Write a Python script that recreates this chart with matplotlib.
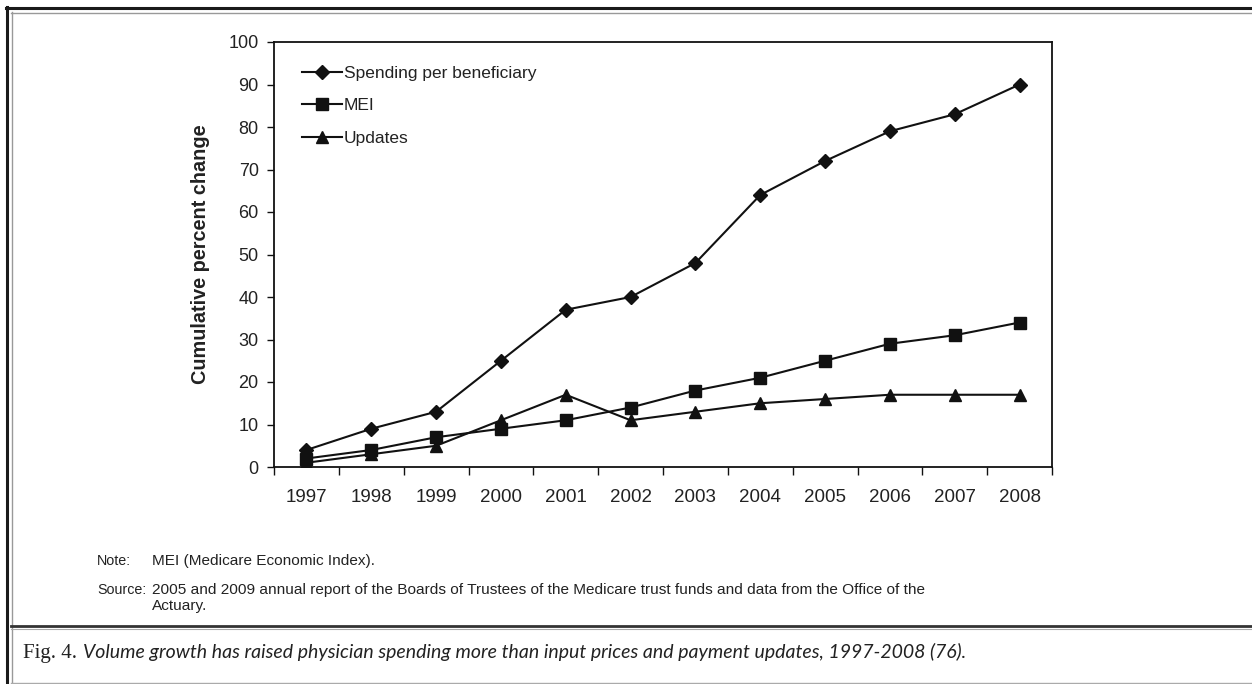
import matplotlib
matplotlib.use("Agg")
import matplotlib.pyplot as plt
from matplotlib.lines import Line2D
from matplotlib.ticker import FixedLocator

plt.rcParams['font.family'] = ['Liberation Sans', 'DejaVu Sans']

years = ['1997', '1998', '1999', '2000', '2001', '2002',
         '2003', '2004', '2005', '2006', '2007', '2008']
spending = [4, 9, 13, 25, 37, 40, 48, 64, 72, 79, 83, 90]
mei = [2, 4, 7, 9, 11, 14, 18, 21, 25, 29, 31, 34]
updates = [1, 3, 5, 11, 17, 11, 13, 15, 16, 17, 17, 17]
y_ticks = [0, 10, 20, 30, 40, 50, 60, 70, 80, 90, 100]

W, H = 1252, 684
fig = plt.figure(figsize=(W / 100, H / 100), dpi=100)
ax = fig.add_axes([274 / W, 1 - 467 / H, (1052 - 274) / W, (467 - 42) / H])

ink = '#111111'
txt = '#222222'
x = list(range(len(years)))
ax.plot(x, spending, color=ink, lw=1.5, marker='D', ms=7, label='Spending per beneficiary')
ax.plot(x, mei, color=ink, lw=1.5, marker='s', ms=8, label='MEI')
ax.plot(x, updates, color=ink, lw=1.5, marker='^', ms=8, label='Updates')

ax.set_xlim(-0.5, len(years) - 0.5)
ax.set_ylim(0, 100)
ax.set_yticks(y_ticks)
ax.tick_params(axis='y', direction='out', length=5, width=1, labelsize=13, pad=6, colors=ink, labelcolor=txt)

# ticks between categories, labels in the middle
ax.xaxis.set_major_locator(FixedLocator([i - 0.5 for i in range(len(years) + 1)]))
ax.xaxis.set_minor_locator(FixedLocator(x))
ax.xaxis.set_major_formatter(plt.NullFormatter())
ax.set_xticks(x, years, minor=True)
ax.tick_params(axis='x', which='major', direction='out', length=6, width=1, colors=ink)
ax.tick_params(axis='x', which='minor', length=0, pad=16, labelsize=13.5, labelcolor=txt)

for s in ax.spines.values():
    s.set_linewidth(1.3)
    s.set_color(ink)

ax.set_ylabel('Cumulative percent change', fontsize=14.3, fontweight='bold', color=txt, labelpad=13)

leg = ax.legend(loc='upper left', bbox_to_anchor=(0.036, 0.944), frameon=False,
                fontsize=12.5, handlelength=2.3, handletextpad=0.1, labelspacing=1.0,
                borderpad=0, borderaxespad=0)
for t in leg.get_texts():
    t.set_color(txt)

# notes under the chart
fs_note = 11.1
fig.text(97 / W, 1 - 561 / H, 'Note:', fontsize=10.3, color=txt, va='center')
fig.text(152 / W, 1 - 561 / H, 'MEI (Medicare Economic Index).', fontsize=fs_note, color=txt, va='center')
fig.text(97 / W, 1 - 590 / H, 'Source:', fontsize=10.3, color=txt, va='center')
fig.text(152 / W, 1 - 590 / H,
         '2005 and 2009 annual report of the Boards of Trustees of the Medicare trust funds and data from the Office of the',
         fontsize=fs_note, color=txt, va='center')
fig.text(152 / W, 1 - 606 / H, 'Actuary.', fontsize=fs_note, color=txt, va='center')

# caption
fig.text(23 / W, 1 - 658 / H, 'Fig. 4.', fontsize=15, family='Liberation Serif', color='#222222', va='baseline')
fig.text(83 / W, 1 - 658 / H,
         'Volume growth has raised physician spending more than input prices and payment updates, 1997-2008 (76).',
         fontsize=14, family='Lato', style='italic', color='#222222', va='baseline')

# page frame
def hline(y, x0, x1, c, lw):
    fig.add_artist(Line2D([x0 / W, x1 / W], [1 - y / H, 1 - y / H], color=c, lw=lw, transform=fig.transFigure))

def vline(xp, y0, y1, c, lw):
    fig.add_artist(Line2D([xp / W, xp / W], [1 - y0 / H, 1 - y1 / H], color=c, lw=lw, transform=fig.transFigure))

hline(8, 6, W, '#1a1a1a', 2.2)
hline(12.5, 11, W, '#999999', 1)
vline(7, 7, H, '#1a1a1a', 2.2)
vline(11.5, 12, H, '#999999', 1)
hline(626, 11, W, '#333333', 2)
hline(628.5, 11, W, '#aaaaaa', 0.8)
hline(682.5, 11, W, '#aaaaaa', 1)

fig.savefig('out.png', dpi=100)
